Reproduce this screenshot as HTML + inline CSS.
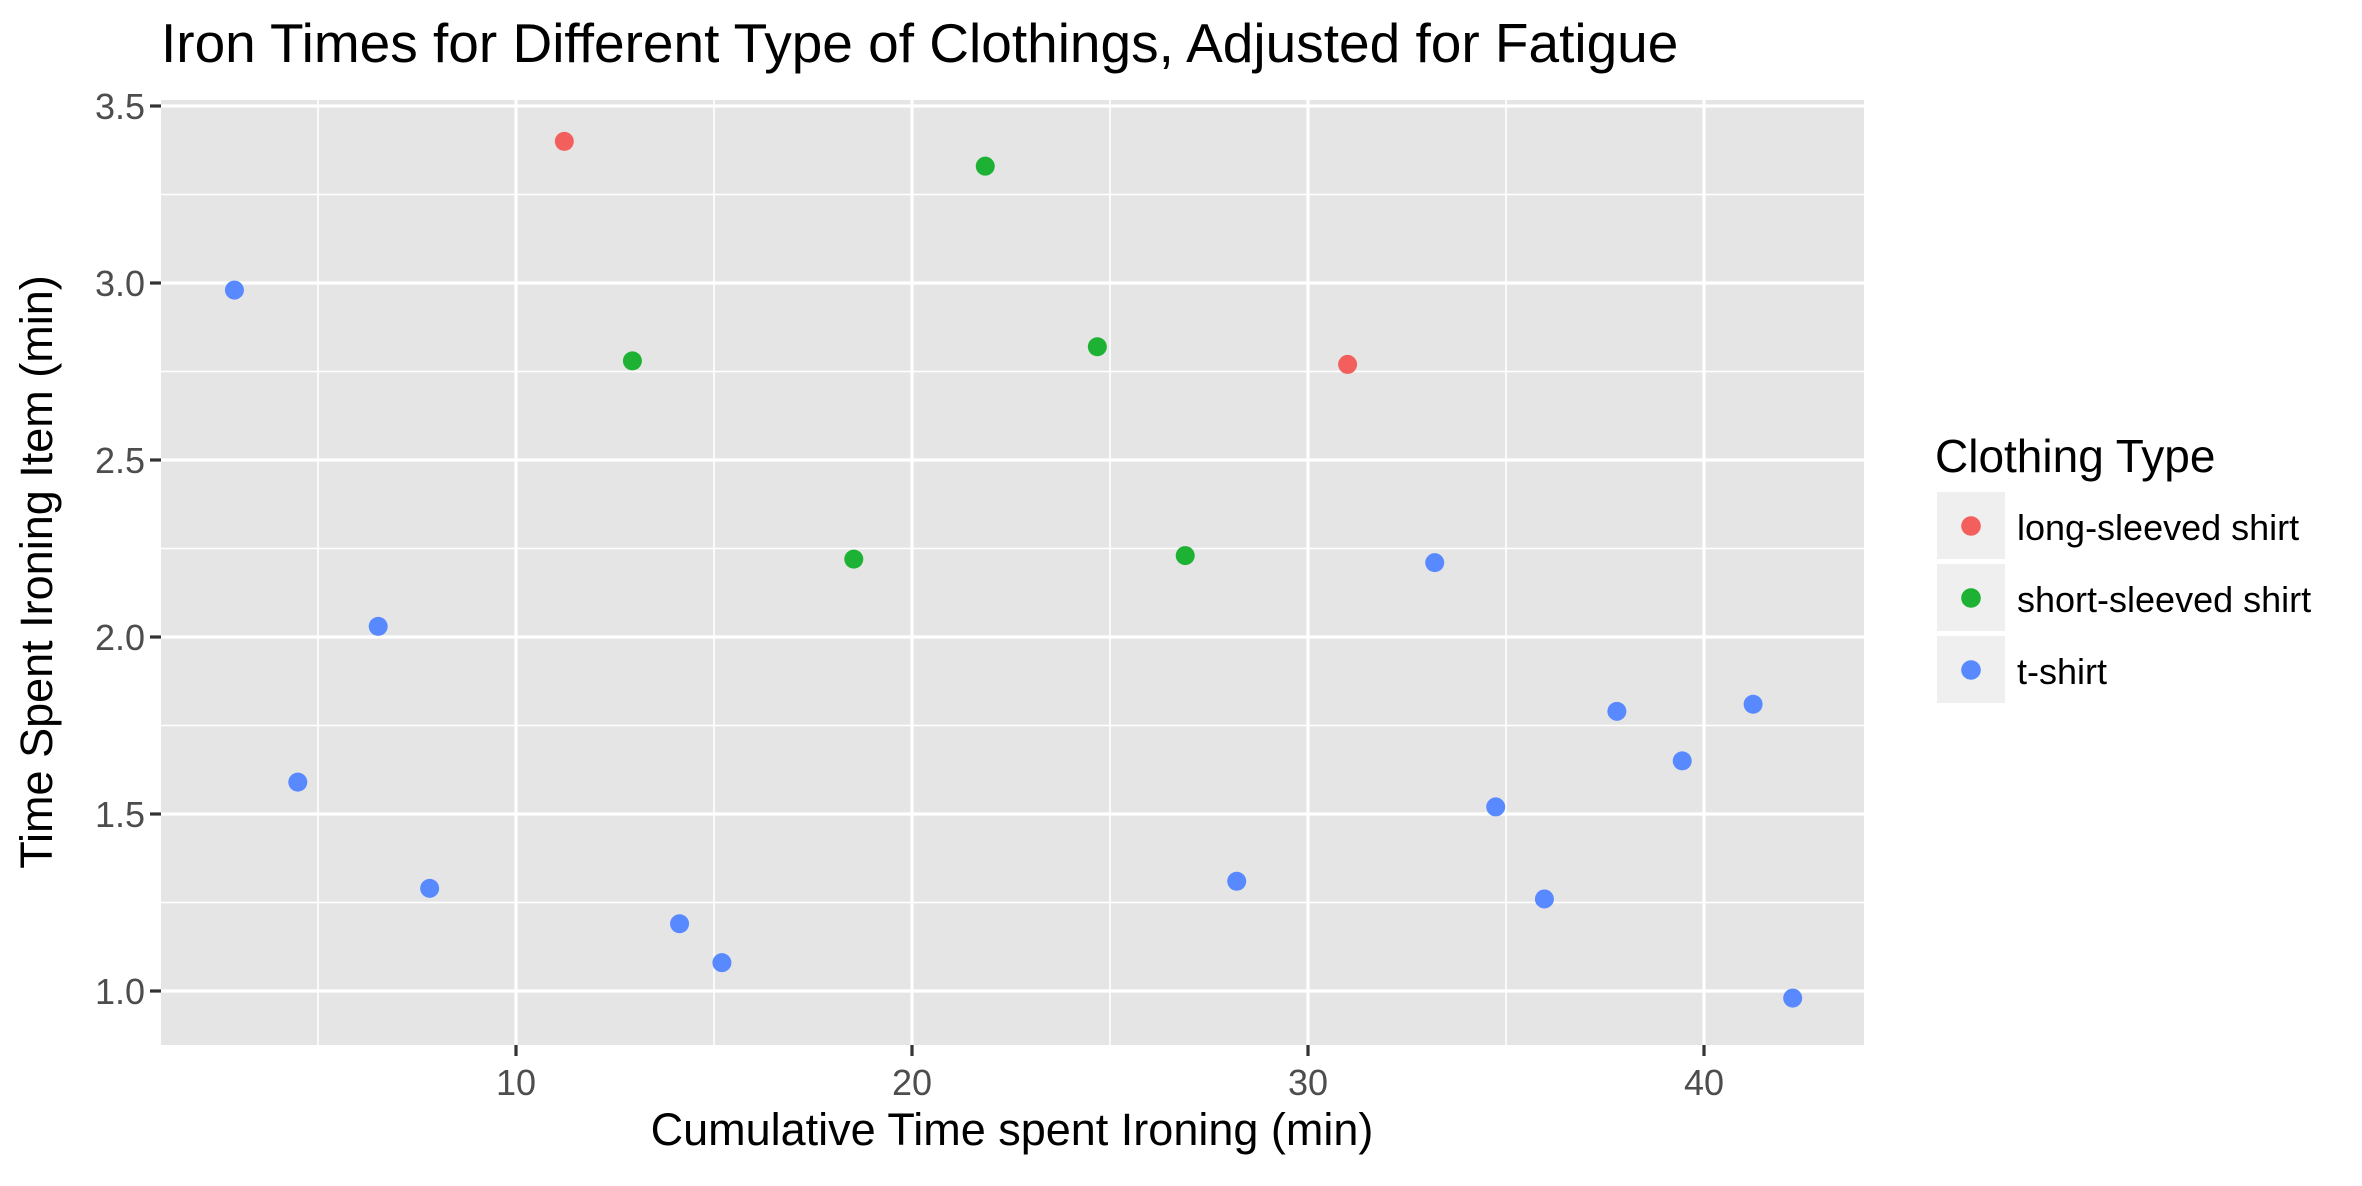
<!DOCTYPE html>
<html><head><meta charset="utf-8"><style>
body{margin:0;background:#fff}
svg text{font-family:"Liberation Sans",Arial,sans-serif}
</style></head><body>
<svg id="chart" width="2362" height="1181" viewBox="0 0 2362 1181" xmlns="http://www.w3.org/2000/svg">
<text x="161" y="62" font-size="55" fill="#000">Iron Times for Different Type of Clothings, Adjusted for Fatigue</text>
<rect x="161" y="100" width="1703" height="945" fill="#e5e5e5"/>
<g id="grid"></g>
<g id="axes"></g>
<g id="points"></g>
<text x="1012" y="1145" font-size="45" text-anchor="middle" fill="#000">Cumulative Time spent Ironing (min)</text>
<text transform="translate(52,572) rotate(-90)" font-size="45" text-anchor="middle" fill="#000">Time Spent Ironing Item (min)</text>
<g>
<text x="1935" y="472" font-size="46" fill="#000">Clothing Type</text>
<g id="legend-keys"></g>
</g>
</svg>
<script>
const categories=["long-sleeved shirt","short-sleeved shirt","t-shirt"];
const colors=["#F35F5C","#1DB233","#5889FF"];
const xValues=[11.22,31.0,12.94,18.53,21.85,24.68,26.9,2.89,33.2,6.52,4.49,7.82,14.13,15.2,28.2,34.74,35.97,37.8,39.45,41.24,42.24];
const yValues=[3.40,2.77,2.78,2.22,3.33,2.82,2.23,2.98,2.21,2.03,1.59,1.29,1.19,1.08,1.31,1.52,1.26,1.79,1.65,1.81,0.98];
const seriesIndex=[0,0,1,1,1,1,1,2,2,2,2,2,2,2,2,2,2,2,2,2,2];
const xTicks=[10,20,30,40];
const xMinor=[5,15,25,35];
const yTicks=[1.0,1.5,2.0,2.5,3.0,3.5];
const yMinor=[1.25,1.75,2.25,2.75,3.25];
const L=161,R=1864,T=100,B=1045;
const X=v=>516+(v-10)*39.6;
const Y=v=>106+(3.5-v)*354;
const NS="http://www.w3.org/2000/svg";
function mk(t,a,p){const e=document.createElementNS(NS,t);for(const k in a)e.setAttribute(k,a[k]);p.appendChild(e);return e;}
const grid=document.getElementById('grid'),axes=document.getElementById('axes'),pts=document.getElementById('points'),lg=document.getElementById('legend-keys');
xMinor.forEach(v=>{const l=mk('line',{x1:X(v),x2:X(v),y1:T,y2:B,stroke:'#fff','stroke-width':1.6},grid);

});
yMinor.forEach(v=>{const l=mk('line',{x1:L,x2:R,y1:Y(v),y2:Y(v),stroke:'#fff','stroke-width':1.6},grid);

});
xTicks.forEach(v=>{const l=mk('line',{x1:X(v),x2:X(v),y1:T,y2:B,stroke:'#fff','stroke-width':3.2},grid);


const t=mk('line',{x1:X(v),x2:X(v),y1:B,y2:B+11,stroke:'#333','stroke-width':3.2},axes);


const tx=mk('text',{x:X(v),y:B+50,'font-size':36,fill:'#4d4d4d','text-anchor':'middle'},axes);tx.textContent=v;

});
yTicks.forEach(v=>{const l=mk('line',{x1:L,x2:R,y1:Y(v),y2:Y(v),stroke:'#fff','stroke-width':3.2},grid);


const t=mk('line',{x1:L-11,x2:L,y1:Y(v),y2:Y(v),stroke:'#333','stroke-width':3.2},axes);


const tx=mk('text',{x:L-16,y:Y(v)+13,'font-size':36,fill:'#4d4d4d','text-anchor':'end'},axes);tx.textContent=v.toFixed(1);

});
xValues.forEach((xv,i)=>{const c=mk('circle',{cx:X(xv),cy:Y(yValues[i]),r:9.5,fill:colors[seriesIndex[i]]},pts);

});
categories.forEach((c,i)=>{const y0=492+i*72;
const r=mk('rect',{x:1937,y:y0,width:68,height:67,fill:'#efefef'},lg);


const d=mk('circle',{cx:1971,cy:y0+34,r:9.8,fill:colors[i]},lg);


const t=mk('text',{x:2017,y:y0+48,'font-size':36,fill:'#000'},lg);t.textContent=c;

});
</script>
</body></html>
